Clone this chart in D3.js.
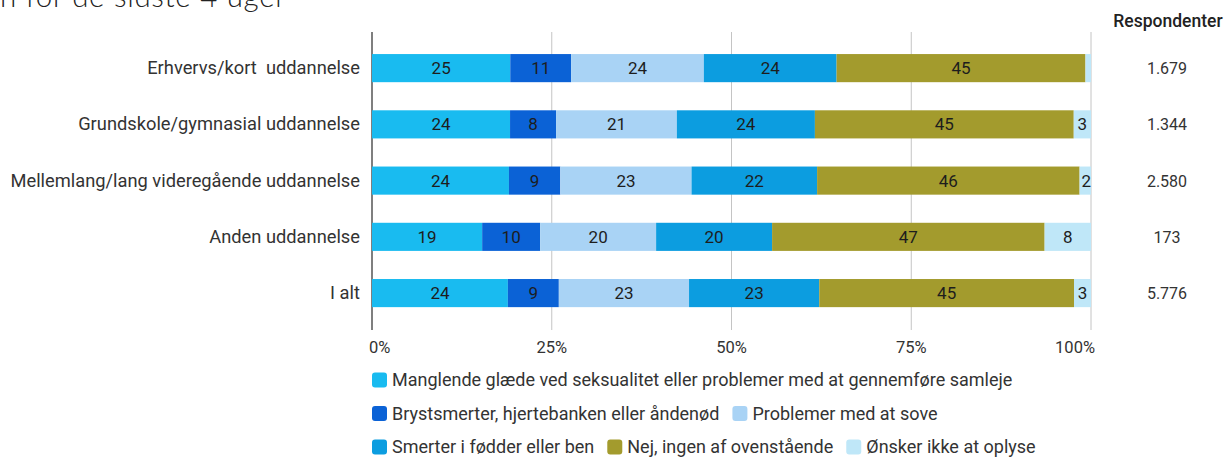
<!DOCTYPE html>
<html>
<head>
<meta charset="utf-8">
<script src="https://cdn.jsdelivr.net/npm/d3@7"></script>
<style>
  body { margin: 0; background: #fff; }
  svg { display: block; font-family: Roboto, "Noto Sans", sans-serif; }
  text { white-space: pre; }
</style>
</head>
<body>
<div id="chart"></div>
<script>
var W = 1227, H = 458;

// data
var categories = ["Erhvervs/kort  uddannelse", "Grundskole/gymnasial uddannelse",
  "Mellemlang/lang videregående uddannelse", "Anden uddannelse", "I alt"];
var seriesNames = ["Manglende glæde ved seksualitet eller problemer med at gennemføre samleje",
  "Brystsmerter, hjertebanken eller åndenød", "Problemer med at sove",
  "Smerter i fødder eller ben", "Nej, ingen af ovenstående", "Ønsker ikke at oplyse"];
var manglende = [25, 24, 24, 19, 24];
var bryst = [11, 8, 9, 10, 9];
var sove = [24, 21, 23, 20, 23];
var smerter = [24, 24, 22, 20, 23];
var nej = [45, 45, 46, 47, 45];
var oensker = [1, 3, 2, 8, 3];
var respondenter = ["1.679", "1.344", "2.580", "173", "5.776"];
var ticks = [0, 25, 50, 75, 100];

var colors = ["#19bbf0", "#0b62d6", "#a9d3f5", "#0c9de0", "#a39b2d", "#bfe7f8"];
var series = [manglende, bryst, sove, smerter, nej, oensker];

var svg = d3.select("#chart").append("svg").attr("width", W).attr("height", H);

// cut-off title at the top
svg.append("text").attr("x", 0).attr("y", 7)
  .style("font-family", "Lato, sans-serif").style("font-weight", 300)
  .style("font-size", "29.5px").style("letter-spacing", "0.7px").attr("fill", "#222")
  .text("n for de sidste 4 uger");

var x = d3.scaleLinear().domain([0, 100]).range([372, 1091]);
var y = d3.scaleBand().domain(categories).range([40, 321.2]).paddingInner(0.5).paddingOuter(0.25);

// grid
svg.append("g").selectAll("line").data(ticks).enter().append("line")
  .attr("x1", d => x(d)).attr("x2", d => x(d))
  .attr("y1", 32).attr("y2", 330)
  .attr("stroke", d => d === 0 ? "#555" : "#c4c4c4")
  .attr("stroke-width", d => d === 0 ? 1.5 : 1);

// tick labels
svg.append("g").selectAll("text").data(ticks).enter().append("text")
  .attr("x", (d, i) => i === 0 ? x(d) - 3 : i === ticks.length - 1 ? x(d) + 4 : x(d))
  .attr("y", 353)
  .attr("text-anchor", (d, i) => i === 0 ? "start" : i === ticks.length - 1 ? "end" : "middle")
  .style("font-size", "16.5px").attr("fill", "#333")
  .text(d => d + "%");

// stacked, normalized rows
var rows = categories.map(function (c, i) {
  var vals = series.map(s => s[i]);
  var total = d3.sum(vals);
  var acc = 0;
  return vals.map(function (v, k) {
    var seg = { cat: c, k: k, v: v, x0: acc / total * 100, x1: (acc + v) / total * 100 };
    acc += v;
    return seg;
  });
});
var segs = rows.flat();

svg.append("g").selectAll("rect").data(segs).enter().append("rect")
  .attr("x", d => x(d.x0)).attr("width", d => x(d.x1) - x(d.x0))
  .attr("y", d => y(d.cat)).attr("height", y.bandwidth())
  .attr("fill", d => colors[d.k]);

svg.append("g").selectAll("text").data(segs.filter(d => x(d.x1) - x(d.x0) >= 9)).enter().append("text")
  .attr("x", d => (x(d.x0) + x(d.x1)) / 2 + (x(d.x1) - x(d.x0) < 14 ? 1 : 0))
  .attr("y", d => y(d.cat) + y.bandwidth() / 2 + 6)
  .attr("text-anchor", "middle")
  .style("font-size", "17px").attr("fill", "#1d1d1d")
  .text(d => d.v);

// category labels
svg.append("g").selectAll("text").data(categories).enter().append("text")
  .attr("x", 360).attr("y", d => y(d) + y.bandwidth() / 2 + 6)
  .attr("text-anchor", "end").style("font-size", "18.3px").attr("fill", "#333")
  .text(d => d);

// respondenter column
svg.append("text").attr("x", 1168).attr("y", 27).attr("text-anchor", "middle")
  .style("font-size", "17.5px").style("font-weight", 500).attr("fill", "#222")
  .text("Respondenter");
svg.append("g").selectAll("text").data(respondenter).enter().append("text")
  .attr("x", 1167).attr("y", (d, i) => y(categories[i]) + y.bandwidth() / 2 + 6)
  .attr("text-anchor", "middle").style("font-size", "16px").attr("fill", "#333")
  .text(d => d);

// legend, flowing with wrap
var legend = svg.append("g");
var lx = 372, ly = 380, maxX = 1092, gap = 13;
seriesNames.forEach(function (name, i) {
  var g = legend.append("g");
  g.append("rect").attr("width", 15).attr("height", 15).attr("rx", 3)
    .attr("y", -7.5).attr("fill", colors[i]);
  var t = g.append("text").attr("x", 20).attr("y", 6)
    .style("font-size", "18px").attr("fill", "#333").text(name);
  var w = 20 + t.node().getComputedTextLength();
  if (lx > 372 && lx + w > maxX) { lx = 372; ly += 33.5; }
  g.attr("transform", "translate(" + lx + "," + ly + ")");
  lx += w + gap;
});
</script>
</body>
</html>
